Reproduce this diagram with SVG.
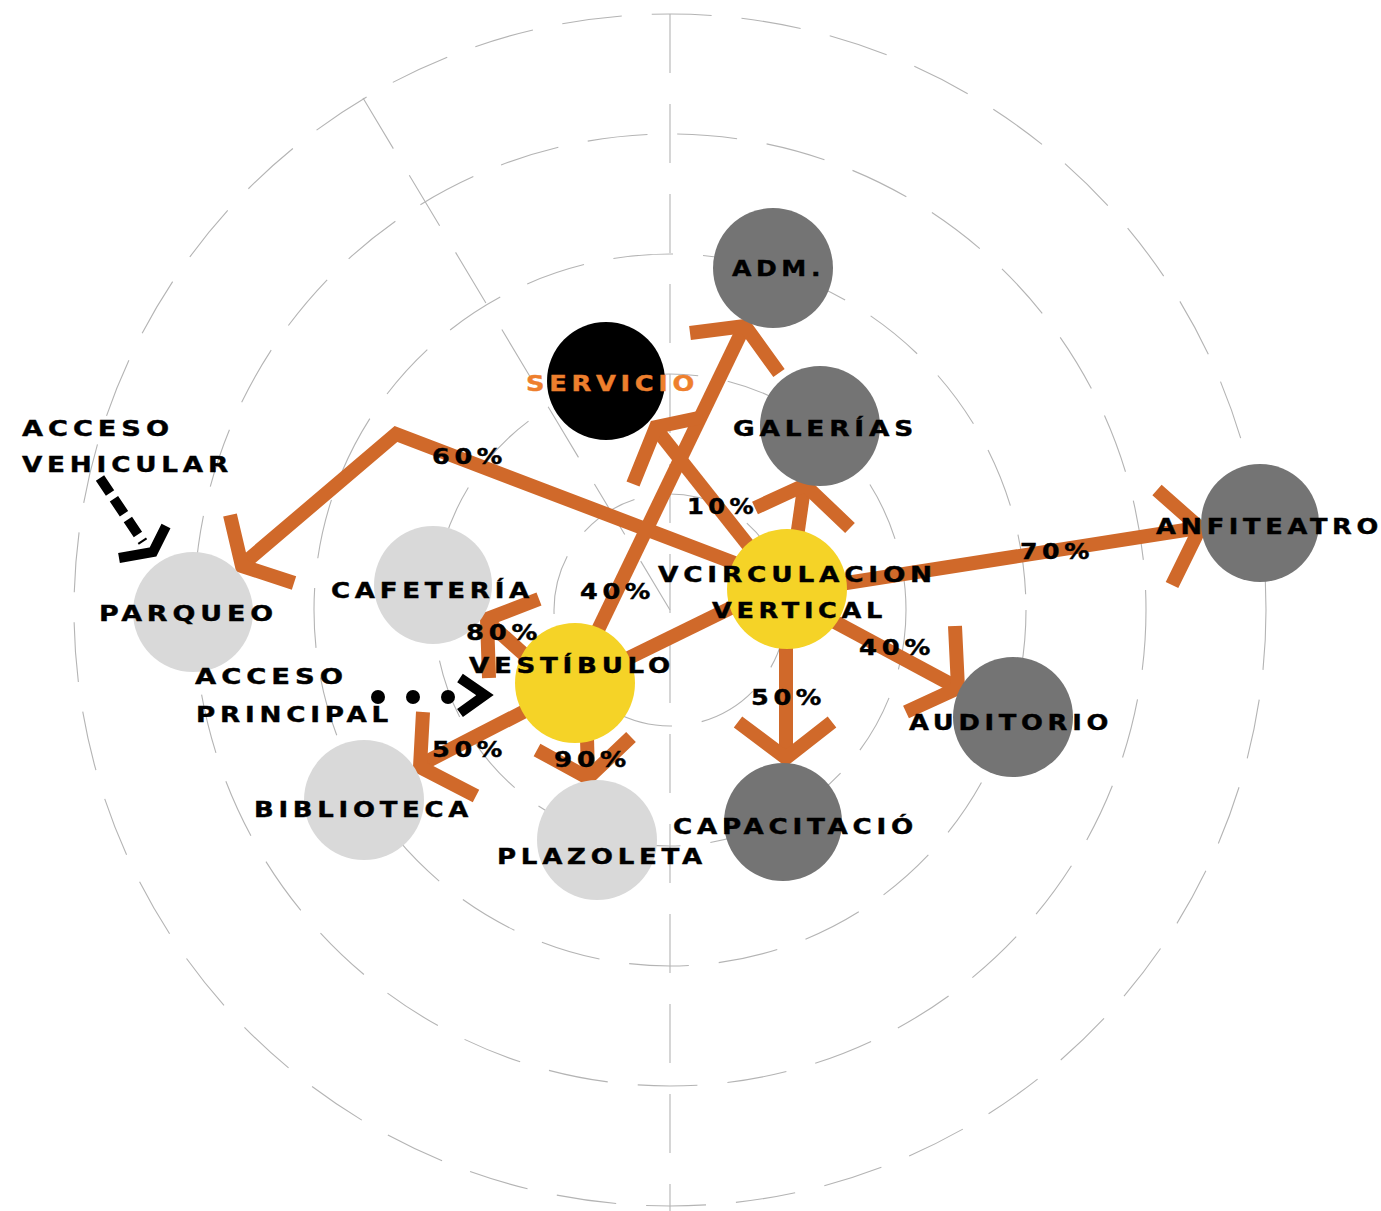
<svg xmlns="http://www.w3.org/2000/svg" width="1381" height="1211" viewBox="0 0 1381 1211">
<defs>
<style>
.ring{fill:none;stroke:#b4b4b4;stroke-width:1.1;stroke-dasharray:60 30}
.axis{stroke:#b4b4b4;stroke-width:1.1;stroke-dasharray:59 31}
.con{fill:none;stroke:#d0692a;stroke-width:14;stroke-linecap:butt;stroke-linejoin:miter}
.head{fill:none;stroke:#d0692a;stroke-width:14;stroke-linecap:butt;stroke-linejoin:miter;stroke-miterlimit:10}
.blk{fill:none;stroke:#000;stroke-width:10;stroke-linejoin:miter;stroke-miterlimit:10}
.dark{fill:#747474}
.light{fill:#d9d9d9}
.yel{fill:#f5d327}
.t{font-family:"DejaVu Sans","Liberation Sans",sans-serif;font-weight:bold;font-size:22px;letter-spacing:4px;fill:#000;stroke:#000;stroke-width:0.4}
.or{fill:#ee7f2d;stroke:#ee7f2d}
</style>
</defs>
<rect width="1381" height="1211" fill="#fff"/>
<g id="grid">
<circle class="ring" cx="670" cy="610" r="116"/>
<circle class="ring" cx="670" cy="610" r="236"/>
<circle class="ring" cx="670" cy="610" r="356"/>
<circle class="ring" cx="670" cy="610" r="476"/>
<circle class="ring" cx="670" cy="610" r="596"/>
<line class="axis" x1="670" y1="14" x2="670" y2="1211"/>
<line class="axis" x1="363" y1="98" x2="670" y2="610"/>
</g>
<g id="connectors">
<polyline class="con" points="745,567 396,434 242,565"/>
<polyline class="head" points="230,515 242,566 294,583"/>
<line class="con" x1="597" y1="632" x2="743" y2="329"/>
<polyline class="head" points="690,333 745,326 779,373"/>
<line class="con" x1="748" y1="545" x2="657" y2="430"/>
<polyline class="head" points="633,484 656,427 703,417"/>
<line class="con" x1="797" y1="537" x2="804" y2="488"/>
<polyline class="head" points="755,508 805,485 850,528"/>
<line class="con" x1="840" y1="584" x2="1198" y2="528"/>
<polyline class="head" points="1157,490 1200,528 1172,585"/>
<line class="con" x1="835" y1="622" x2="956" y2="687"/>
<polyline class="head" points="955,626 958,688 906,712"/>
<line class="con" x1="786" y1="645" x2="786" y2="757"/>
<polyline class="head" points="738,722 786,758 832,722"/>
<line class="con" x1="600" y1="672" x2="745" y2="601"/>
<line class="con" x1="527" y1="657" x2="489" y2="623"/>
<polyline class="head" points="539,599 487,619 489,678"/>
<line class="con" x1="527" y1="710" x2="422" y2="764"/>
<polyline class="head" points="423,712 420,767 476,796"/>
<line class="con" x1="587" y1="738" x2="588" y2="775"/>
<polyline class="head" points="537,750 588,778 631,737"/>
<circle cx="378" cy="697" r="7" fill="#000"/>
<circle cx="413" cy="697" r="7" fill="#000"/>
<circle cx="448" cy="697" r="7" fill="#000"/>
<polyline class="blk" points="460,678 485,695 460,713"/>
<line x1="100" y1="478" x2="143" y2="542" stroke="#000" stroke-width="10" stroke-dasharray="18 7"/>
<polyline class="blk" stroke-width="9" points="166,526 153,552 119,558"/>
</g>
<g id="node-adm"><circle class="dark" cx="773" cy="268" r="60"/><text class="t" x="732" y="276" textLength="93" lengthAdjust="spacingAndGlyphs">ADM.</text></g>
<g id="node-servicio"><circle cx="606" cy="381" r="59" fill="#000"/><text class="t or" x="526" y="391" textLength="173" lengthAdjust="spacingAndGlyphs">SERVICIO</text></g>
<g id="node-galerias"><circle class="dark" cx="820" cy="426" r="60"/><text class="t" x="733" y="436" textLength="185" lengthAdjust="spacingAndGlyphs">GALERÍAS</text></g>
<g id="node-anfiteatro"><circle class="dark" cx="1260" cy="523" r="59"/><text class="t" x="1156" y="534" textLength="227" lengthAdjust="spacingAndGlyphs">ANFITEATRO</text></g>
<g id="node-acceso-vehicular"><text class="t" x="22" y="436" textLength="152" lengthAdjust="spacingAndGlyphs">ACCESO</text><text class="t" x="22" y="472" textLength="211" lengthAdjust="spacingAndGlyphs">VEHICULAR</text></g>
<g id="node-parqueo"><circle class="light" cx="193" cy="612" r="60"/><text class="t" x="99" y="621" textLength="179" lengthAdjust="spacingAndGlyphs">PARQUEO</text></g>
<g id="node-cafeteria"><circle class="light" cx="433" cy="585" r="59"/><text class="t" x="331" y="598" textLength="203" lengthAdjust="spacingAndGlyphs">CAFETERÍA</text></g>
<g id="node-vestibulo"><circle class="yel" cx="575" cy="683" r="60"/><text class="t" x="469" y="673" textLength="206" lengthAdjust="spacingAndGlyphs">VESTÍBULO</text></g>
<g id="node-circulacion"><circle class="yel" cx="787" cy="589" r="60"/><text class="t" x="658" y="582" textLength="279" lengthAdjust="spacingAndGlyphs">VCIRCULACION</text><text class="t" x="712" y="618" textLength="175" lengthAdjust="spacingAndGlyphs">VERTICAL</text></g>
<g id="node-acceso-principal"><text class="t" x="195" y="684" textLength="153" lengthAdjust="spacingAndGlyphs">ACCESO</text><text class="t" x="196" y="722" textLength="197" lengthAdjust="spacingAndGlyphs">PRINCIPAL</text></g>
<g id="node-biblioteca"><circle class="light" cx="364" cy="800" r="60"/><text class="t" x="254" y="817" textLength="219" lengthAdjust="spacingAndGlyphs">BIBLIOTECA</text></g>
<g id="node-plazoleta"><circle class="light" cx="597" cy="840" r="60"/><text class="t" x="497" y="864" textLength="210" lengthAdjust="spacingAndGlyphs">PLAZOLETA</text></g>
<g id="node-capacitacion"><circle class="dark" cx="783" cy="822" r="59"/><text class="t" x="673" y="834" textLength="245" lengthAdjust="spacingAndGlyphs">CAPACITACIÓ</text></g>
<g id="node-auditorio"><circle class="dark" cx="1013" cy="717" r="60"/><text class="t" x="909" y="730" textLength="204" lengthAdjust="spacingAndGlyphs">AUDITORIO</text></g>
<g id="connector-labels">
<text class="t" x="432" y="464" textLength="75" lengthAdjust="spacingAndGlyphs">60%</text>
<text class="t" x="580" y="599" textLength="75" lengthAdjust="spacingAndGlyphs">40%</text>
<text class="t" x="687" y="514" textLength="71" lengthAdjust="spacingAndGlyphs">10%</text>
<text class="t" x="1020" y="559" textLength="74" lengthAdjust="spacingAndGlyphs">70%</text>
<text class="t" x="466" y="640" textLength="76" lengthAdjust="spacingAndGlyphs">80%</text>
<text class="t" x="432" y="757" textLength="75" lengthAdjust="spacingAndGlyphs">50%</text>
<text class="t" x="554" y="767" textLength="77" lengthAdjust="spacingAndGlyphs">90%</text>
<text class="t" x="751" y="705" textLength="75" lengthAdjust="spacingAndGlyphs">50%</text>
<text class="t" x="859" y="655" textLength="76" lengthAdjust="spacingAndGlyphs">40%</text>
</g>
</svg>
